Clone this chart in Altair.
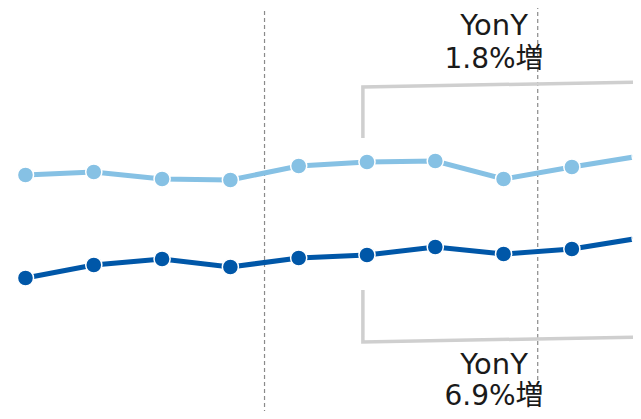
import altair as alt
import pandas as pd

# x positions (period index) and series values (arbitrary units)
periods = list(range(10))
light_vals = [244, 247, 240, 239, 253, 257, 258, 240, 252, 263]
dark_vals = [141, 154, 160, 152, 161, 164, 172, 165, 170, 181]

# dividers between periods
divider_x = [3.5, 7.5]
divider_top = [415, 414]
divider_bot = [8, 27]

# bracket paths (x index, value)
bracket_top_x = [4.94, 4.94, 9.02]
bracket_top_y = [281, 332, 337]
bracket_bot_x = [4.94, 4.94, 9.02]
bracket_bot_y = [129, 77, 82]

# annotation texts
label_x = 6.86
head_text = ["YonY", "YonY"]
head_y = [384, 45]
value_text = ["1.8%増", "6.9%増"]
value_y = [351, 14]

LIGHT = "#86c1e4"
DARK = "#0057a8"

series = pd.DataFrame(
    [{"i": i, "v": v, "s": "light"} for i, v in zip(periods, light_vals)]
    + [{"i": i, "v": v, "s": "dark"} for i, v in zip(periods, dark_vals)]
)
dividers = pd.DataFrame({"x": divider_x, "y1": divider_top, "y2": divider_bot})
brackets = pd.DataFrame(
    [{"x": x, "y": y, "b": "top", "o": k} for k, (x, y) in enumerate(zip(bracket_top_x, bracket_top_y))]
    + [{"x": x, "y": y, "b": "bot", "o": k} for k, (x, y) in enumerate(zip(bracket_bot_x, bracket_bot_y))]
)
heads = pd.DataFrame({"x": [label_x] * 2, "y": head_y, "t": head_text})
values = pd.DataFrame({"x": [label_x] * 2, "y": value_y, "t": value_text})

xs = alt.Scale(domain=[-0.256, 8.895], nice=False, zero=False)
ys = alt.Scale(domain=[8, 411], nice=False, zero=False)
col = alt.Scale(domain=["light", "dark"], range=[LIGHT, DARK])

X = lambda f: alt.X(f, type="quantitative", scale=xs, axis=None)
Y = lambda f: alt.Y(f, type="quantitative", scale=ys, axis=None)

div = alt.Chart(dividers).mark_rule(color="#8a8a8a", strokeWidth=1.2, strokeDash=[4, 3]).encode(
    x=X("x"), y=Y("y1"), y2="y2"
)
br = alt.Chart(brackets).mark_line(color="#cfcfcf", strokeWidth=3.5, strokeCap="butt", strokeJoin="miter").encode(
    x=X("x"), y=Y("y"), detail="b:N", order="o:Q"
)
lines = alt.Chart(series).mark_line(strokeWidth=5).encode(
    x=X("i"), y=Y("v"), color=alt.Color("s:N", scale=col, legend=None), detail="s:N"
)
pts = alt.Chart(series).mark_point(filled=True, size=260, opacity=1, stroke="white", strokeWidth=1.5).encode(
    x=X("i"), y=Y("v"), fill=alt.Fill("s:N", scale=col, legend=None)
)
txt_head = alt.Chart(heads).mark_text(
    font="DejaVu Sans, Noto Sans CJK JP", fontSize=29, color="#1a1a1a", align="center", baseline="alphabetic"
).encode(x=X("x"), y=Y("y"), text="t:N")
txt_val = alt.Chart(values).mark_text(
    font="DejaVu Sans, Noto Sans CJK JP", fontSize=28, color="#1a1a1a", align="center", baseline="alphabetic"
).encode(x=X("x"), y=Y("y"), text="t:N")

chart = (
    alt.layer(div, br, lines, pts, txt_head, txt_val)
    .properties(width=625, height=403, padding=0,
                autosize=alt.AutoSizeParams(type="none"))
    .configure_view(stroke=None)
)
chart.save("out.html", embed_options={"renderer": "svg", "actions": False})
